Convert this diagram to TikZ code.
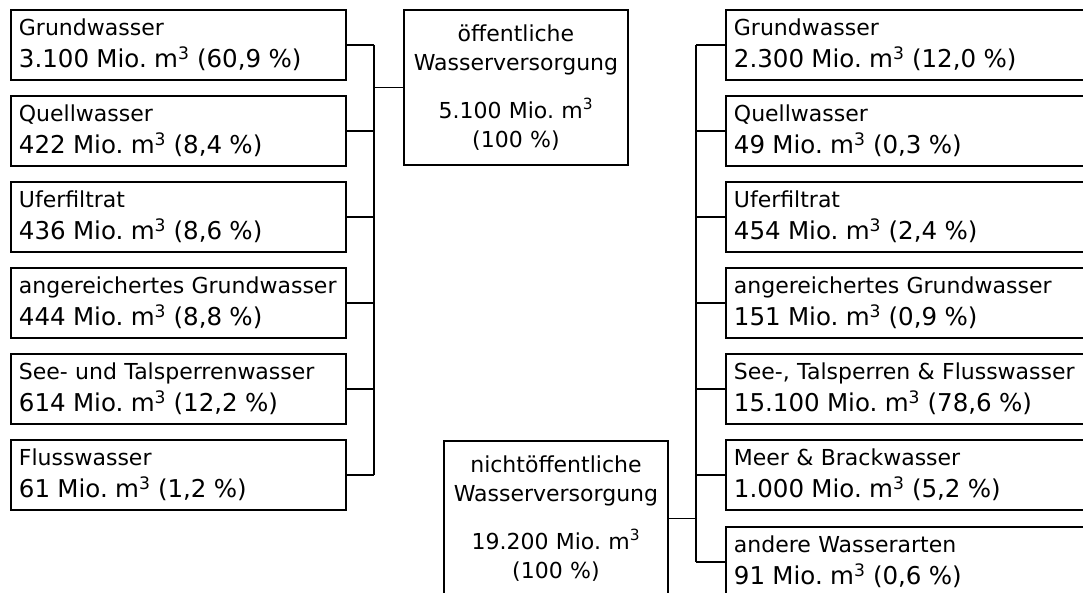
\documentclass[tikz,border=0pt]{standalone}
\usepackage{fontspec}
\setmainfont{DejaVu Sans}
\usepackage{tikz}
\usetikzlibrary{calc}
\frenchspacing
\newcommand{\kastenfont}{\fontsize{16.5}{24}\selectfont}
\newcommand{\summenfont}{\fontsize{16.5}{21.75}\selectfont}
\tikzset{
	quelle/.style={draw, line width=1.4pt, anchor=north west, inner xsep=6pt, minimum width=251.25pt, minimum height=52.5pt, text width=239.25pt, align=left, font=\kastenfont},
	quelleR/.style={quelle, minimum width=300pt, text width=288pt},
	summe/.style={draw, line width=1.4pt, anchor=north west, inner xsep=6pt, minimum width=168pt, minimum height=116.25pt, text width=156pt, align=center, font=\summenfont},
	linie/.style={line width=1.4pt}
}
\newcommand{\mio}[2]{{\fontsize{18.4}{24}\selectfont #1 Mio. m\textsuperscript{3} (#2 \%)}}

\begin{document}
\begin{tikzpicture}[x=0.75pt, y=-0.75pt]
		%%%%% START %%%%%
		\useasboundingbox (0, 0) rectangle (1083, 593);
		\clip (0, 0) rectangle (1083, 593);
		
		% oeffentliche Versorgung
		\node[quelle] (lg1) at (10, 9) {Grundwasser\\\mio{3.100}{60,9}};
		\node[quelle] (lg2) at (10, 95) {Quellwasser\\\mio{422}{8,4}};
		\node[quelle] (lg3) at (10, 181) {Uferfiltrat\\\mio{436}{8,6}};
		\node[quelle] (lg4) at (10, 267) {angereichertes Grundwasser\\\mio{444}{8,8}};
		\node[quelle] (lg5) at (10, 353) {See- und Talsperrenwasser\\\mio{614}{12,2}};
		\node[quelle] (lg6) at (10, 439) {Flusswasser\\\mio{61}{1,2}};
		
		\node[summe] (oeff) at (403, 9) {öffentliche\\Wasserversorgung\\[14pt]5.100 Mio. m\textsuperscript{3}\\(100 \%)};
		
		\coordinate (lbus) at (374, 86.5);
		\foreach \n in {lg1,lg2,lg3,lg4,lg5,lg6}
			\draw[linie] (\n.east) -- (\n.east -| lbus);
		\draw[linie] (lg1.east -| lbus) -- (lg6.east -| lbus);
		\draw[linie] (oeff.west) -- (oeff.west -| lbus);
		
		% nichtoeffentliche Versorgung
		\node[quelleR] (rg1) at (725, 9) {Grundwasser\\\mio{2.300}{12,0}};
		\node[quelleR] (rg2) at (725, 95) {Quellwasser\\\mio{49}{0,3}};
		\node[quelleR] (rg3) at (725, 181) {Uferfiltrat\\\mio{454}{2,4}};
		\node[quelleR] (rg4) at (725, 267) {angereichertes Grundwasser\\\mio{151}{0,9}};
		\node[quelleR] (rg5) at (725, 353) {See-, Talsperren \& Flusswasser\\\mio{15.100}{78,6}};
		\node[quelleR] (rg6) at (725, 439) {Meer \& Brackwasser\\\mio{1.000}{5,2}};
		\node[quelleR] (rg7) at (725, 526) {andere Wasserarten\\\mio{91}{0,6}};
		
		\node[summe] (nicht) at (443, 440) {nichtöffentliche\\Wasserversorgung\\[14pt]19.200 Mio. m\textsuperscript{3}\\(100 \%)};
		
		\coordinate (rbus) at (696, 518);
		\foreach \n in {rg1,rg2,rg3,rg4,rg5,rg6,rg7}
			\draw[linie] (\n.west) -- (\n.west -| rbus);
		\draw[linie] (rg1.west -| rbus) -- (rg7.west -| rbus);
		\draw[linie] (nicht.east) -- (nicht.east -| rbus);
		
		%%%%% END %%%%%
\end{tikzpicture}
\end{document}
